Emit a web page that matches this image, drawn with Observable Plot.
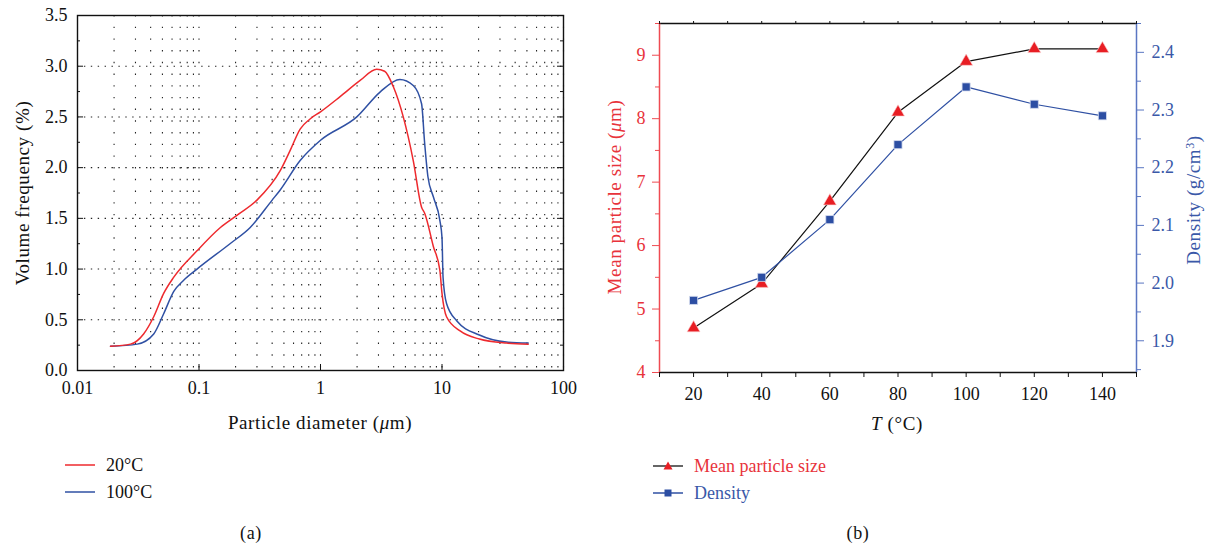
<!DOCTYPE html>
<html><head><meta charset="utf-8">
<script src="https://cdn.jsdelivr.net/npm/d3@7"></script>
<script src="https://cdn.jsdelivr.net/npm/@observablehq/plot@0.6"></script>
<style>
body{margin:0;background:#fff;font-family:"Liberation Serif","Times New Roman",serif;}
#wrap{position:relative;width:1211px;height:548px;overflow:hidden;background:#fff;}
.abs{position:absolute;white-space:nowrap;font-size:19px;letter-spacing:0.6px;line-height:1;color:#111;}
.c{transform:translate(-50%,-50%);}
.r{transform:translate(-50%,-50%) rotate(-90deg);}
.lg{position:absolute;display:flex;align-items:center;font-size:18px;line-height:1;white-space:nowrap;transform:translateY(-50%);}
.lg svg{margin-right:10px;}
</style></head><body><div id="wrap"></div>
<script>
// ---- Panel (a): particle size distribution ----
const diam20 = [0.0187,0.0273,0.035,0.0424,0.0512,0.062,0.0963,0.150,0.205,0.30,0.466,0.563,0.68,0.82,1.0,1.45,2.12,2.9,3.37,3.97,4.8,5.8,6.79,7.2,8.5,9.6,10.0,10.9,14.1,20.3,33.9,51.2];
const freq20 = [0.24,0.26,0.36,0.53,0.76,0.92,1.18,1.41,1.53,1.68,1.97,2.17,2.38,2.48,2.55,2.70,2.86,2.97,2.95,2.80,2.50,2.07,1.61,1.55,1.22,0.99,0.76,0.53,0.39,0.31,0.27,0.26];
const diam100 = [0.0187,0.031,0.0424,0.0512,0.062,0.0748,0.0963,0.18,0.264,0.40,0.466,0.68,1.0,1.99,3.09,4.5,5.8,6.79,7.2,7.66,8.5,9.6,10.0,10.2,10.9,13.2,20.3,33.9,51.2];
const freq100 = [0.24,0.26,0.36,0.56,0.78,0.89,1.0,1.25,1.41,1.68,1.78,2.07,2.27,2.50,2.745,2.87,2.81,2.63,2.24,1.91,1.71,1.48,1.31,0.92,0.66,0.49,0.35,0.28,0.27];
const seriesA = ["20°C","100°C"];
const xTicksA = [0.01,0.1,1,10,100];
const yTicksA = [0,0.5,1,1.5,2,2.5,3,3.5];

// ---- Panel (b): mean particle size and density vs temperature ----
const temps = [20,40,60,80,100,120,140];
const meanSize = [4.7,5.4,6.7,8.1,8.9,9.1,9.1];
const density = [1.97,2.01,2.11,2.24,2.34,2.31,2.29];
const xTicksB = [20,40,60,80,100,120,140];
const sizeTicks = [4,5,6,7,8,9];
const densTicks = [1.9,2.0,2.1,2.2,2.3,2.4];
const seriesB = ["Mean particle size","Density"];

const RED = "#ee2a2e", BLUE = "#2f50a3";
const RED_TXT = "#e8333b", BLUE_TXT = "#3a58a8", BLUE_AX = "#5a76c2", RED_AX = "#ef4b52";
const FONT = "Liberation Serif, Times New Roman, serif";

const wrap = document.getElementById("wrap");

// ---------- Panel (a) ----------
const aData20 = diam20.map((d,i)=>({d, v:freq20[i]}));
const aData100 = diam100.map((d,i)=>({d, v:freq100[i]}));
const gridX = [];
for (const e of [0.01,0.1,1,10]) for (let k=1;k<=9;k++){ const v=+(k*e).toPrecision(3); if (v>0.01) gridX.push(v); }
gridX.push(100);
const gridY = [0.5,1,1.5,2,2.5,3];
const minorY = d3.range(0.25,3.5,0.5);
const frameWA = 600-77-37, frameHA = 440-15-70;

const plotA = Plot.plot({
  width:600, height:440, marginLeft:77, marginRight:37, marginTop:15, marginBottom:70,
  style:{fontFamily:FONT, fontSize:"18px", color:"#111", background:"transparent", overflow:"visible"},
  x:{type:"log", domain:[0.01,100], label:null},
  y:{domain:[0,3.5], label:null},
  marks:[
    Plot.ruleX(gridX, {stroke:"#222", strokeDasharray:"1.4,10.3", strokeWidth:1.1}),
    Plot.ruleY(gridY, {stroke:"#222", strokeDasharray:"1.4,5.5", strokeWidth:1.1}),
    Plot.line(aData100, {x:"d", y:"v", stroke:BLUE, strokeWidth:1.5, curve:"monotone-x"}),
    Plot.line(aData20, {x:"d", y:"v", stroke:RED, strokeWidth:1.5, curve:"monotone-x"}),
    Plot.frame({stroke:"#111", strokeWidth:1.4}),
    Plot.tickY(yTicksA, {insetRight:frameWA-6, stroke:"#111"}),
    Plot.tickY(minorY, {insetRight:frameWA-3, stroke:"#111"}),
    Plot.tickY(yTicksA, {insetLeft:frameWA-6, stroke:"#111"}),
    Plot.tickY(minorY, {insetLeft:frameWA-3, stroke:"#111"}),
    Plot.tickX(xTicksA, {insetTop:frameHA-6, stroke:"#111"}),
    Plot.axisX(xTicksA, {tickSize:0, tickPadding:11, tickFormat:d=>String(d), label:null}),
    Plot.axisY(yTicksA, {tickSize:0, tickPadding:10, tickFormat:d=>d.toFixed(1), label:null})
  ]
});
plotA.style.position = "absolute"; plotA.style.left = "0px"; plotA.style.top = "0px";
wrap.appendChild(plotA);

// ---------- Panel (b) ----------
const dMin = 1.845, dMax = 2.45, sMin = 4, sMax = 9.5;
const toSize = d => sMin + (d - dMin) / (dMax - dMin) * (sMax - sMin);
const fromSize = s => dMin + (s - sMin) / (sMax - sMin) * (dMax - dMin);
const bSize = temps.map((t,i)=>({t, v:meanSize[i]}));
const bDens = temps.map((t,i)=>({t, v:toSize(density[i])}));
const allX = d3.range(10,151,10);
const minorSize = d3.range(4.5,9.6,1);
const minorDens = d3.range(1.85,2.46,0.1).map(d=>+d.toFixed(2));

const plotB = Plot.plot({
  width:611, height:440, marginLeft:59, marginRight:75, marginTop:23, marginBottom:68,
  style:{fontFamily:FONT, fontSize:"18px", color:"#111", background:"transparent", overflow:"visible"},
  x:{domain:[10,150], label:null},
  y:{domain:[sMin,sMax], label:null},
  marks:[
    Plot.ruleY([sMax], {stroke:"#111", strokeWidth:1.3}),
    Plot.ruleY([sMin], {stroke:"#111", strokeWidth:1.3}),
    Plot.ruleX([10], {stroke:RED_AX, strokeWidth:1.5}),
    Plot.ruleX([150], {stroke:BLUE_AX, strokeWidth:1.5}),
    Plot.line(bSize, {x:"t", y:"v", stroke:"#111", strokeWidth:1.2}),
    Plot.dot(bSize, {x:"t", y:"v", symbol:"triangle", r:4.8, fill:"#e81e24", stroke:"#fbd0d0", strokeWidth:0.6}),
    Plot.line(bDens, {x:"t", y:"v", stroke:BLUE, strokeWidth:1.2}),
    Plot.dot(bDens, {x:"t", y:"v", symbol:"square", r:4.6, fill:"#2c4ea3", stroke:"#d8def0", strokeWidth:0.8}),
    Plot.axisX(allX, {tickSize:5, tickPadding:10, tickFormat:d=>xTicksB.includes(d)?String(d):"", label:null}),
    Plot.axisX(allX, {anchor:"top", tickSize:3, tickFormat:()=>"", label:null}),
    Plot.axisY(sizeTicks, {anchor:"left", tickSize:7, tickPadding:7, tickFormat:d=>String(d), color:RED_TXT, stroke:RED_AX, fill:RED_TXT, label:null}),
    Plot.axisY(minorSize, {anchor:"left", tickSize:4, tickFormat:()=>"", stroke:RED_AX, label:null}),
    Plot.axisY(densTicks.map(toSize), {anchor:"right", tickSize:7, tickPadding:8, tickFormat:s=>fromSize(s).toFixed(1), color:BLUE_TXT, stroke:BLUE_AX, fill:BLUE_TXT, label:null}),
    Plot.axisY(minorDens.map(toSize), {anchor:"right", tickSize:4, tickFormat:()=>"", stroke:BLUE_AX, label:null})
  ]
});
plotB.style.position = "absolute"; plotB.style.left = "600px"; plotB.style.top = "0px";
wrap.appendChild(plotB);

// ---------- Axis titles (HTML for italics / superscripts) ----------
function addText(html, x, y, cls, color, size){
  const el = document.createElement("div");
  el.className = "abs " + cls;
  el.innerHTML = html;
  el.style.left = x + "px"; el.style.top = y + "px";
  if (color) el.style.color = color;
  if (size) el.style.fontSize = size + "px";
  wrap.appendChild(el);
}
addText("Particle diameter (<i>μ</i>m)", 320, 422, "c");
addText("Volume frequency (%)", 22, 193, "r");
addText("Mean particle size (<i>μ</i>m)", 614, 197, "r", RED_TXT);
addText("Density (g/cm<sup style='font-size:12px;vertical-align:6px'>3</sup>)", 1193, 200, "r", BLUE_TXT);
addText("<i>T</i> (°C)", 897, 423, "c");
addText("(a)", 251, 533, "c", null, 18);
addText("(b)", 858, 533, "c", null, 18);

// ---------- Legends ----------
function addLegend(x, y, svg, label, color){
  const el = document.createElement("div");
  el.className = "lg";
  el.style.left = x + "px"; el.style.top = y + "px";
  el.innerHTML = svg + `<span style="color:${color}">${label}</span>`;
  wrap.appendChild(el);
}
const lineSvg = c => `<svg width="32" height="10"><line x1="1" y1="5" x2="31" y2="5" stroke="${c}" stroke-width="1.5"/></svg>`;
addLegend(64, 465, lineSvg(RED), seriesA[0], "#111");
addLegend(64, 492, lineSvg(BLUE), seriesA[1], "#111");
const triSvg = `<svg width="32" height="12"><line x1="1" y1="6" x2="31" y2="6" stroke="#333" stroke-width="1.5"/><path d="M16,1.5 L20.5,9.5 L11.5,9.5 Z" fill="#e81e24"/></svg>`;
const sqSvg = `<svg width="32" height="12"><line x1="1" y1="6" x2="31" y2="6" stroke="${BLUE}" stroke-width="1.5"/><rect x="12.5" y="2.5" width="7" height="7" fill="#2c4ea3"/></svg>`;
addLegend(652, 466, triSvg, seriesB[0], RED_TXT);
addLegend(652, 493, sqSvg, seriesB[1], BLUE_TXT);
</script></body></html>
